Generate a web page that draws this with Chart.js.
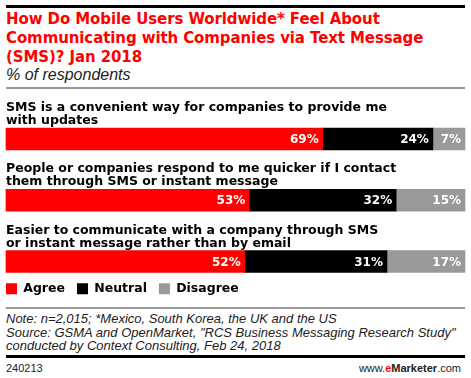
<!DOCTYPE html>
<html>
<head>
<meta charset="utf-8">
<script src="https://cdn.jsdelivr.net/npm/chart.js@4"></script>
<style>
  body { margin: 0; width: 471px; height: 378px; background: #fff; position: relative; overflow: hidden; font-family: "Liberation Sans", Arial, sans-serif; }
  .rule { position: absolute; left: 6px; width: 459px; }
  .title { position: absolute; left: 6px; top: 10px; color: #ff0000; font: bold 15px/19px "DejaVu Sans", sans-serif; white-space: nowrap; letter-spacing: -0.1px; }
  .sub { position: absolute; left: 6px; top: 66px; font: italic 16px "Liberation Sans", sans-serif; color: #222; }
  .note { position: absolute; left: 6px; top: 312px; font: italic 13px/13.5px "Liberation Sans", sans-serif; color: #222; white-space: nowrap; }
  .foot { position: absolute; top: 362px; font: 11px "Liberation Sans", sans-serif; color: #222; }
  .wrap { position: absolute; left: -6px; top: 90px; width: 477px; height: 215px; }
</style>
</head>
<body>
<div class="rule" style="top:5px;height:3px;background:#000"></div>
<div class="title">How Do Mobile Users Worldwide* Feel About<br>Communicating with Companies via Text Message<br>(SMS)? Jan 2018</div>
<div class="sub">% of respondents</div>
<div class="rule" style="top:87px;height:2px;background:#999"></div>
<div class="wrap"><canvas id="grafico"></canvas></div>
<div class="rule" style="top:307px;height:2px;background:#999"></div>
<div class="note">Note: n=2,015; *Mexico, South Korea, the UK and the US<br>Source: GSMA and OpenMarket, "RCS Business Messaging Research Study"<br>conducted by Context Consulting, Feb 24, 2018</div>
<div class="rule" style="top:355px;height:3px;background:#000"></div>
<div class="foot" style="left:6px">240213</div>
<div class="foot" style="right:10px">www.<b style="color:#ff0000">e</b><b>Marketer</b>.com</div>
<script>
const categorias = [
    ['SMS is a convenient way for companies to provide me', 'with updates'],
    ['People or companies respond to me quicker if I contact', 'them through SMS or instant message'],
    ['Easier to communicate with a company through SMS', 'or instant message rather than by email']
];
const agree = [69, 53, 52];
const neutral = [24, 32, 31];
const disagree = [7, 15, 17];

const fonte = '"DejaVu Sans", sans-serif';

// rotulos das categorias acima de cada barra
const rotulosCategorias = {
    id: 'rotulosCategorias',
    afterDatasetsDraw(chart) {
        const ctx = chart.ctx;
        const meta = chart.getDatasetMeta(0);
        ctx.save();
        ctx.fillStyle = '#000';
        ctx.font = 'bold 12.5px ' + fonte;
        ctx.textAlign = 'left';
        ctx.textBaseline = 'alphabetic';
        meta.data.forEach((bar, i) => {
            const topo = bar.y - bar.height / 2;
            ctx.fillText(categorias[i][0], chart.chartArea.left, topo - 17);
            ctx.fillText(categorias[i][1], chart.chartArea.left, topo - 4);
        });
        ctx.restore();
    }
};

// valores dentro das barras
const valores = {
    id: 'valores',
    afterDatasetsDraw(chart) {
        const ctx = chart.ctx;
        ctx.save();
        ctx.fillStyle = '#fff';
        ctx.font = 'bold 12px ' + fonte;
        ctx.textAlign = 'right';
        ctx.textBaseline = 'middle';
        chart.data.datasets.forEach((ds, d) => {
            chart.getDatasetMeta(d).data.forEach((bar, i) => {
                ctx.fillText(ds.data[i] + '%', bar.x - 4, bar.y + 1);
            });
        });
        ctx.restore();
    }
};

new Chart(document.getElementById('grafico'), {
    type: 'bar',
    data: {
        labels: categorias,
        datasets: [
            { label: 'Agree', data: agree, backgroundColor: '#ff0000' },
            { label: 'Neutral', data: neutral, backgroundColor: '#000000' },
            { label: 'Disagree', data: disagree, backgroundColor: '#999999' }
        ]
    },
    options: {
        indexAxis: 'y',
        responsive: true,
        maintainAspectRatio: false,
        animation: false,
        layout: { padding: { top: 49, right: 6, bottom: 0, left: 0 } },
        datasets: { bar: { barThickness: 22, borderWidth: 0, clip: false } },
        scales: {
            x: {
                stacked: true, min: 0, max: 100,
                ticks: { display: false },
                grid: { display: false },
                border: { display: false },
                afterFit(s) { s.height = 9; }
            },
            y: {
                stacked: true, offset: false,
                ticks: { display: false },
                grid: { display: false },
                border: { display: false },
                afterFit(s) { s.width = 12; }
            }
        },
        plugins: {
            legend: {
                position: 'bottom',
                align: 'start',
                labels: {
                    boxWidth: 11, boxHeight: 11, padding: 12,
                    color: '#000',
                    font: { family: fonte, size: 12.5, weight: 'bold' }
                }
            },
            tooltip: { enabled: false }
        }
    },
    plugins: [rotulosCategorias, valores]
});
</script>
</body>
</html>
